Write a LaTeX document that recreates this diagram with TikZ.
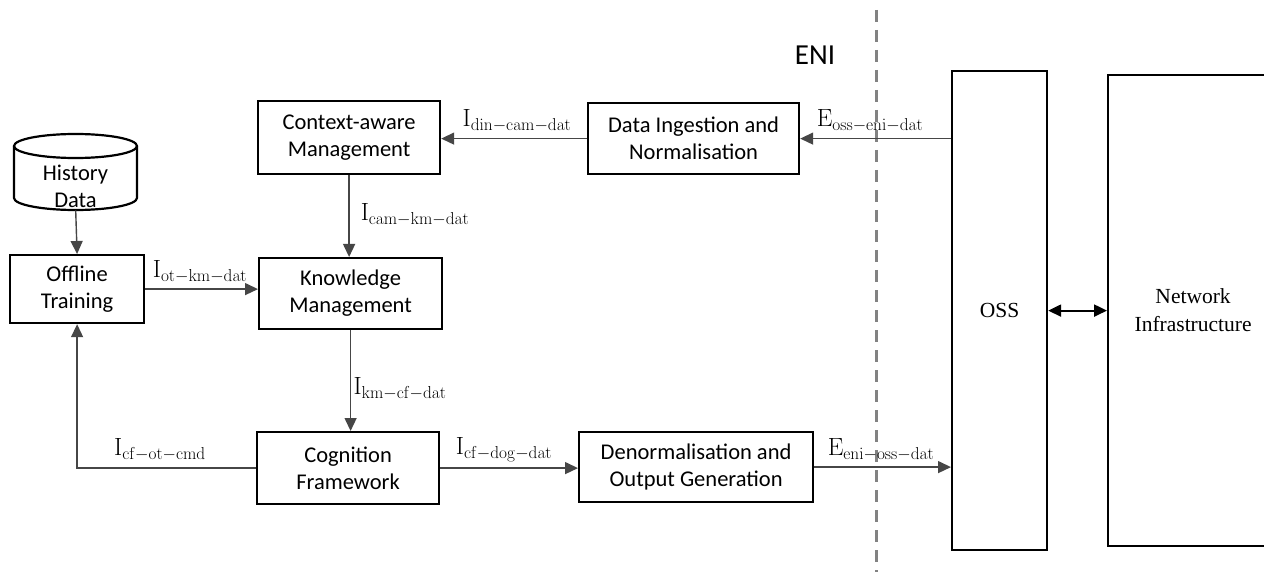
\documentclass[tikz,border=0pt]{standalone}
\usepackage[no-math]{fontspec}
\setmainfont{Carlito}
\newfontfamily\timesf{Liberation Serif}
\usetikzlibrary{arrows.meta}
\definecolor{conn}{RGB}{70,70,70}
\definecolor{dashg}{RGB}{130,130,130}
\tikzset{
  box/.style={draw=black, line width=2.2pt, inner sep=0pt, align=center, anchor=north west,
    font=\fontsize{22.5}{27}\selectfont},
  conline/.style={draw=conn, line width=1.4pt, -{Triangle[length=13pt,width=12pt]}},
  lbl/.style={inner sep=0pt, font=\fontsize{25.5}{27}\selectfont},
  serifbox/.style={draw=black, line width=2.2pt, inner sep=0pt, align=center, anchor=north west,
    font=\timesf\fontsize{21.5}{28}\selectfont},
}
\begin{document}
\begin{tikzpicture}[x=1pt,y=-1pt]
\useasboundingbox (0,0) rectangle (1264,572);
% dashed ENI boundary
\draw[dashg, line width=3pt, dash pattern=on 12pt off 8pt] (876,10) -- (876,572);
\node[inner sep=0pt, font=\fontsize{29}{30}\selectfont] (eni) at (815,55) {ENI};

% boxes
\node[box, minimum width=182, minimum height=73] (cam) at (257,100) {Context-aware\\Management};
\node[box, minimum width=211, minimum height=71] (din) at (587,102) {Data Ingestion and\\Normalisation};
\node[box, minimum width=134, minimum height=68] (ot) at (9,254) {Offline\\Training};
\node[box, minimum width=183, minimum height=71] (km) at (258,257) {Knowledge\\Management};
\node[box, minimum width=182, minimum height=72] (cf) at (256,431) {Cognition\\Framework};
\node[box, minimum width=234, minimum height=70] (dog) at (578,431) {Denormalisation and\\Output Generation};
\node[serifbox, minimum width=95, minimum height=479] (oss) at (951,70) {OSS};
\node[serifbox, minimum width=170, minimum height=471] (ni) at (1107,74) {Network\\Infrastructure};

% history data cylinder
\node[inner sep=0pt, minimum width=123, minimum height=76, anchor=north west] (hd) at (14,134) {};
\draw[black, line width=2.2pt] (14,146) -- (14,198) arc[start angle=180, end angle=0, x radius=61.5, y radius=12] -- (137,146);
\draw[black, line width=2.2pt] (75.5,146) ellipse[x radius=61.5, y radius=12];
\node[inner sep=0pt, align=center, font=\fontsize{22.5}{27}\selectfont] (hdt) at (75.5,186) {History\\Data};

% connectors
\draw[conline] (hd.south) -- (ot.north);
\draw[conline] (ot.east) -- (ot.east -| km.west);
\draw[conline] (din.west) -- (din.west -| cam.east);
\coordinate (ossin) at (oss.west |- din.east);
\draw[conline] (ossin) -- (din.east);
\draw[conline] (cam.south) -- (cam.south |- km.north);
\draw[conline] (km.south) -- (km.south |- cf.north);
\draw[conline] (cf.west) -| (ot.south);
\draw[conline] (cf.east) -- (cf.east -| dog.west);
\draw[conline] (dog.east) -- (dog.east -| oss.west);
\draw[black, line width=2.2pt, {Triangle[length=13pt,width=12pt]}-{Triangle[length=13pt,width=12pt]}] (oss.east) -- (oss.east -| ni.west);

% labels
\node[lbl] (l1) at (200,272) {$\mathrm{I}_{\mathrm{ot}-\mathrm{km}-\mathrm{dat}}$};
\node[lbl] (l2) at (517,121) {$\mathrm{I}_{\mathrm{din}-\mathrm{cam}-\mathrm{dat}}$};
\node[lbl] (l3) at (870,121) {$\mathrm{E}_{\mathrm{oss}-\mathrm{eni}-\mathrm{dat}}$};
\node[lbl] (l4) at (415,215) {$\mathrm{I}_{\mathrm{cam}-\mathrm{km}-\mathrm{dat}}$};
\node[lbl] (l5) at (400,389) {$\mathrm{I}_{\mathrm{km}-\mathrm{cf}-\mathrm{dat}}$};
\node[lbl] (l6) at (160,450) {$\mathrm{I}_{\mathrm{cf}-\mathrm{ot}-\mathrm{cmd}}$};
\node[lbl] (l7) at (504,450) {$\mathrm{I}_{\mathrm{cf}-\mathrm{dog}-\mathrm{dat}}$};
\node[lbl] (l8) at (881,450) {$\mathrm{E}_{\mathrm{eni}-\mathrm{oss}-\mathrm{dat}}$};
\end{tikzpicture}
\end{document}
